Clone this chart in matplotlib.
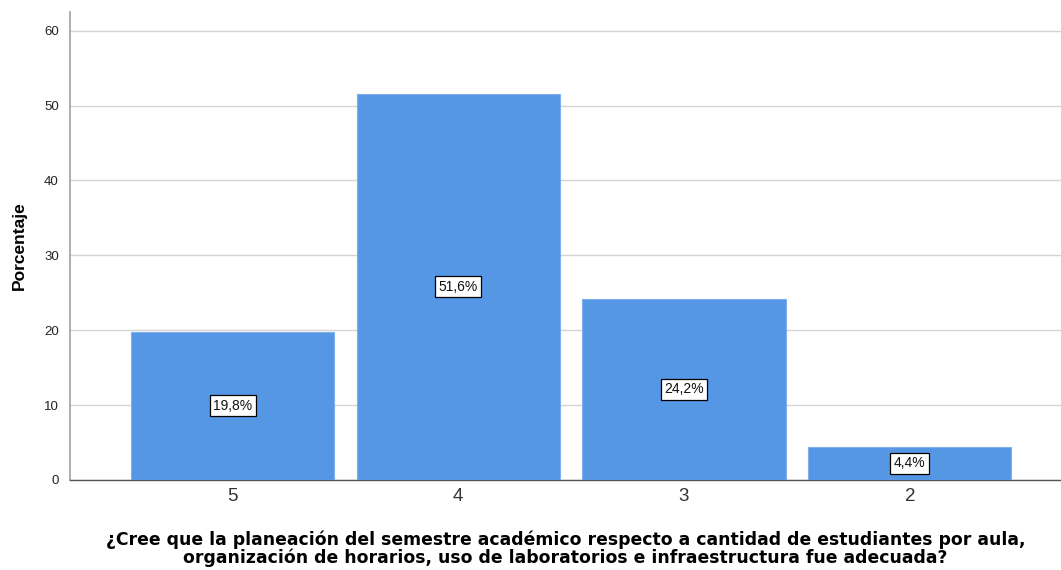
import matplotlib
matplotlib.use("Agg")
import matplotlib.pyplot as plt

categories = ["5", "4", "3", "2"]
percentages = [19.8, 51.6, 24.2, 4.4]
value_labels = ["19,8%", "51,6%", "24,2%", "4,4%"]
y_ticks = [0, 10, 20, 30, 40, 50, 60]

plt.rcParams["font.family"] = ["Liberation Sans", "DejaVu Sans"]

fig = plt.figure(figsize=(10.61, 5.70), dpi=100)
ax = fig.add_axes([0.066, 0.158, 0.934, 0.821])

x = list(range(len(categories)))
ax.bar(x, percentages, width=0.9, color="#5596E5", edgecolor="#7DB0EC",
       linewidth=0.8, zorder=3)

for xi, v, lab in zip(x, percentages, value_labels):
    ax.text(xi, v / 2, lab, ha="center", va="center", fontsize=10, zorder=4,
            color="#111111",
            bbox=dict(boxstyle="square,pad=0.25", facecolor="white",
                      edgecolor="black", linewidth=0.9))

ax.set_xlim(-0.72, 3.67)
ax.set_ylim(0, 62.5)
ax.set_yticks(y_ticks)
ax.set_xticks(x)
ax.set_xticklabels(categories, fontsize=13.5, color="#333333")
ax.tick_params(axis="x", length=0, pad=6)
ax.tick_params(axis="y", length=0, labelsize=9.5, pad=8, labelcolor="#222222")
ax.yaxis.grid(True, color="#D4D4D4", linewidth=1.0, zorder=0)

for side in ("top", "right"):
    ax.spines[side].set_visible(False)
ax.spines["left"].set_color("#A0A0A0")
ax.spines["left"].set_linewidth(1.2)
ax.spines["bottom"].set_color("#555555")
ax.spines["bottom"].set_linewidth(1.0)

ax.set_ylabel("Porcentaje", fontsize=12.5, fontweight="bold", labelpad=12)
ax.set_xlabel("¿Cree que la planeación del semestre académico respecto a cantidad de estudiantes por aula,\n"
              "organización de horarios, uso de laboratorios e infraestructura fue adecuada?",
              fontsize=12.4, fontweight="bold", family="DejaVu Sans",
              linespacing=0.98, labelpad=18)

fig.savefig("out.png", dpi=100)
